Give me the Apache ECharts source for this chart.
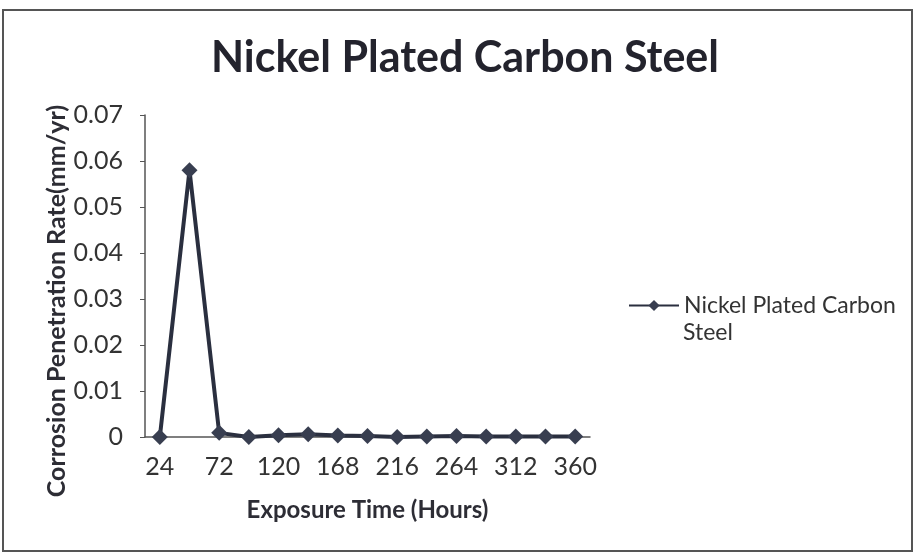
<!DOCTYPE html>
<html>
<head>
<meta charset="utf-8">
<script src="https://cdn.jsdelivr.net/npm/echarts@6/dist/echarts.min.js"></script>
<style>html,body{margin:0;padding:0;background:#fff;}#c{width:916px;height:554px;}</style>
</head>
<body>
<div id="c"></div>
<script>
var categories = ['24','48','72','96','120','144','168','192','216','240','264','288','312','336','360'];
var seriesName = 'Nickel Plated Carbon Steel';
var values = [0, 0.058, 0.0009, 0, 0.0004, 0.0006, 0.0003, 0.0002, 0, 0.0001, 0.0002, 0.0001, 0.0001, 0.0001, 0.0001];
var yTicks = { min: 0, max: 0.07, interval: 0.01 };
var yAxisTitle = 'Corrosion Penetration Rate(mm/yr)';
var xAxisTitle = 'Exposure Time (Hours)';

var chart = echarts.init(document.getElementById('c'));
var txt = '#333333';
var font = 'Lato';
chart.setOption({
  backgroundColor: '#fff',
  animation: false,
  graphic: [{
    type: 'rect', shape: { x: 3, y: 10, width: 909, height: 541 },
    style: { fill: 'none', stroke: '#555', lineWidth: 2 }, silent: true
  }, {
    type: 'text', x: 57, y: 301, rotation: Math.PI / 2, silent: true,
    style: { text: yAxisTitle, align: 'center', verticalAlign: 'middle',
      font: 'bold 25px Lato', fill: '#2d2d35' }
  }, {
    type: 'text', left: 683, top: 321, silent: true,
    style: { text: 'Steel', font: '23px Lato', fill: txt }
  }],
  title: {
    text: 'Nickel Plated Carbon Steel',
    left: 460, top: 32, textAlign: 'center',
    textStyle: { fontFamily: font, fontWeight: 'bold', fontSize: 43, color: '#23232d' }
  },
  legend: {
    left: 623, top: 289, orient: 'vertical',
    itemWidth: 50, itemHeight: 14, itemGap: 4,
    formatter: function () { return 'Nickel Plated Carbon'; },
    textStyle: { fontFamily: font, fontSize: 23, color: txt },
    data: [seriesName]
  },
  grid: { left: 145, right: 326, top: 115, bottom: 117 },
  xAxis: {
    type: 'category', data: categories, boundaryGap: true,
    name: xAxisTitle, nameLocation: 'middle', nameGap: 61,
    nameTextStyle: { fontFamily: font, fontWeight: 'bold', fontSize: 24, color: '#2d2d35' },
    axisLine: { lineStyle: { color: '#555', width: 1.5 } },
    axisTick: { interval: 0, length: 5, lineStyle: { color: '#555' } },
    axisLabel: { interval: 1, fontFamily: font, fontSize: 25, color: txt, margin: 17 }
  },
  yAxis: {
    type: 'value', min: yTicks.min, max: yTicks.max, interval: yTicks.interval,
    axisLine: { show: true, lineStyle: { color: '#555', width: 1.5 } },
    axisTick: { show: true, length: 5, lineStyle: { color: '#555' } },
    splitLine: { show: false },
    axisLabel: { fontFamily: font, fontSize: 25, color: txt, margin: 22 }
  },
  series: [{
    name: seriesName, type: 'line', data: values,
    symbol: 'diamond', symbolSize: 16,
    lineStyle: { color: '#2a2f3f', width: 4 },
    itemStyle: { color: '#383e50' }
  }]
});
</script>
</body>
</html>
